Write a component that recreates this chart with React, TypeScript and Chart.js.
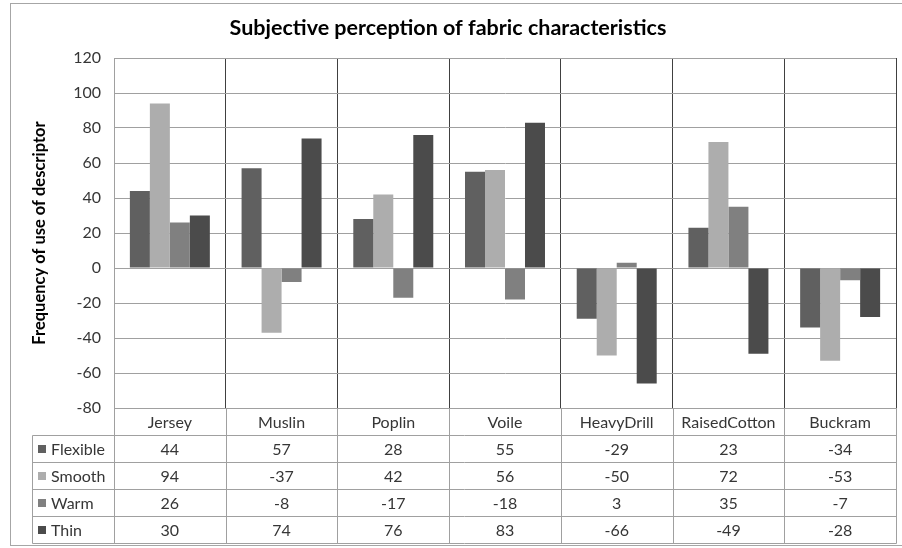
import React, { useEffect, useRef } from 'react';
import { Chart, registerables } from 'chart.js';

Chart.register(...registerables);

const categories = ['Jersey', 'Muslin', 'Poplin', 'Voile', 'HeavyDrill', 'RaisedCotton', 'Buckram'];
const flexible = [44, 57, 28, 55, -29, 23, -34];
const smooth = [94, -37, 42, 56, -50, 72, -53];
const warm = [26, -8, -17, -18, 3, 35, -7];
const thin = [30, 74, 76, 83, -66, -49, -28];
const seriesNames = ['Flexible', 'Smooth', 'Warm', 'Thin'];
const seriesColors = ['#606060', '#adadad', '#808080', '#4b4b4b'];
const yMin = -80;
const yMax = 120;
const yStep = 20;

const FONT = 'Lato, "Open Sans", sans-serif';
const TEXT = '#363636';

const framePlugin = {
  id: 'frame',
  beforeDraw(chart: any) {
    const { ctx, width } = chart;
    ctx.save();
    ctx.fillStyle = '#ffffff';
    ctx.fillRect(0, 0, width, chart.height);
    ctx.strokeStyle = '#a6a6a6';
    ctx.lineWidth = 1;
    ctx.strokeRect(10.5, 3.5, width + 10, 542);
    ctx.restore();
  },
};

const tablePlugin = {
  id: 'dataTable',
  afterDraw(chart: any) {
    const { ctx, chartArea } = chart;
    const xs = chart.scales.x;
    const left = chartArea.left;
    const right = chartArea.right;
    const top = chartArea.bottom;
    const rowH = 27;
    const legendLeft = 32;
    const n = categories.length;
    const colW = (right - left) / n;
    const rows = seriesNames.length;
    const px = (v: number) => Math.round(v) + 0.5;

    ctx.save();
    ctx.strokeStyle = '#a0a0a0';
    ctx.lineWidth = 1;
    ctx.beginPath();
    for (let r = 0; r <= rows + 1; r++) {
      const y = px(top + r * rowH);
      const x0 = r === 0 ? left : legendLeft;
      ctx.moveTo(px(x0), y);
      ctx.lineTo(px(right), y);
    }
    ctx.moveTo(px(legendLeft), px(top + rowH));
    ctx.lineTo(px(legendLeft), px(top + (rows + 1) * rowH));
    for (let i = 0; i <= n; i++) {
      const xx = px(left + i * colW);
      ctx.moveTo(xx, px(top));
      ctx.lineTo(xx, px(top + (rows + 1) * rowH));
    }
    ctx.stroke();

    ctx.fillStyle = TEXT;
    ctx.font = '16px ' + FONT;
    ctx.textAlign = 'center';
    ctx.textBaseline = 'middle';
    for (let i = 0; i < n; i++) {
      const cx = xs.getPixelForValue(i);
      ctx.fillText(String(chart.data.labels[i]), cx, top + rowH / 2 + 1);
    }
    chart.data.datasets.forEach((ds: any, r: number) => {
      const cy = top + (r + 1.5) * rowH + 1;
      ctx.fillStyle = ds.backgroundColor;
      ctx.fillRect(38, Math.round(cy - 5), 8, 8);
      ctx.fillStyle = TEXT;
      ctx.textAlign = 'left';
      ctx.fillText(ds.label, 51, cy);
      ctx.textAlign = 'center';
      for (let i = 0; i < n; i++) {
        const cx = xs.getPixelForValue(i);
        ctx.fillText(String(ds.data[i]), cx, cy);
      }
    });
    ctx.restore();
  },
};

export default function App() {
  const ref = useRef<HTMLCanvasElement | null>(null);

  useEffect(() => {
    if (!ref.current) return;
    const seriesData = [flexible, smooth, warm, thin];
    const chart = new Chart(ref.current, {
      type: 'bar',
      data: {
        labels: categories,
        datasets: seriesNames.map((name, i) => ({
          label: name,
          data: seriesData[i],
          backgroundColor: seriesColors[i],
          borderWidth: 0,
          categoryPercentage: 0.716,
          barPercentage: 1,
        })),
      },
      options: {
        animation: false,
        responsive: true,
        maintainAspectRatio: false,
        layout: { padding: { left: 0, right: 6, top: 0, bottom: 140 } },
        plugins: {
          legend: { display: false },
          tooltip: { enabled: false },
          title: {
            display: true,
            text: 'Subjective perception of fabric characteristics',
            color: '#000000',
            font: { family: FONT, size: 21.5, weight: 'bold', lineHeight: 1.2 },
            padding: { top: 15, bottom: 17.2 },
          },
        },
        scales: {
          x: {
            grid: {
              offset: true,
              drawTicks: false,
              color: (c: any) => (c.index === 0 || c.index === categories.length ? 'rgba(0,0,0,0)' : '#404040'),
              lineWidth: 1,
            },
            border: { display: true, color: '#a0a0a0' },
            ticks: { display: false },
            afterFit: (s: any) => {
              s.height = 0;
            },
          },
          y: {
            min: yMin,
            max: yMax,
            ticks: {
              stepSize: yStep,
              color: TEXT,
              font: { family: FONT, size: 16 },
              padding: 13,
            },
            grid: { color: '#a0a0a0', drawTicks: false },
            border: { display: true, color: '#a0a0a0' },
            title: {
              display: true,
              text: 'Frequency of use of descriptor',
              color: '#000000',
              font: { family: FONT, size: 16.5, weight: 'bold', lineHeight: 1.2 },
              padding: { top: 30, bottom: 0 },
            },
            afterFit: (s: any) => {
              s.width = 114;
            },
          },
        },
      },
      plugins: [framePlugin, tablePlugin],
    });
    return () => chart.destroy();
  }, []);

  return (
    <div style={{ position: 'absolute', left: 0, top: 0, width: 902, height: 548 }}>
      <canvas ref={ref} />
    </div>
  );
}
